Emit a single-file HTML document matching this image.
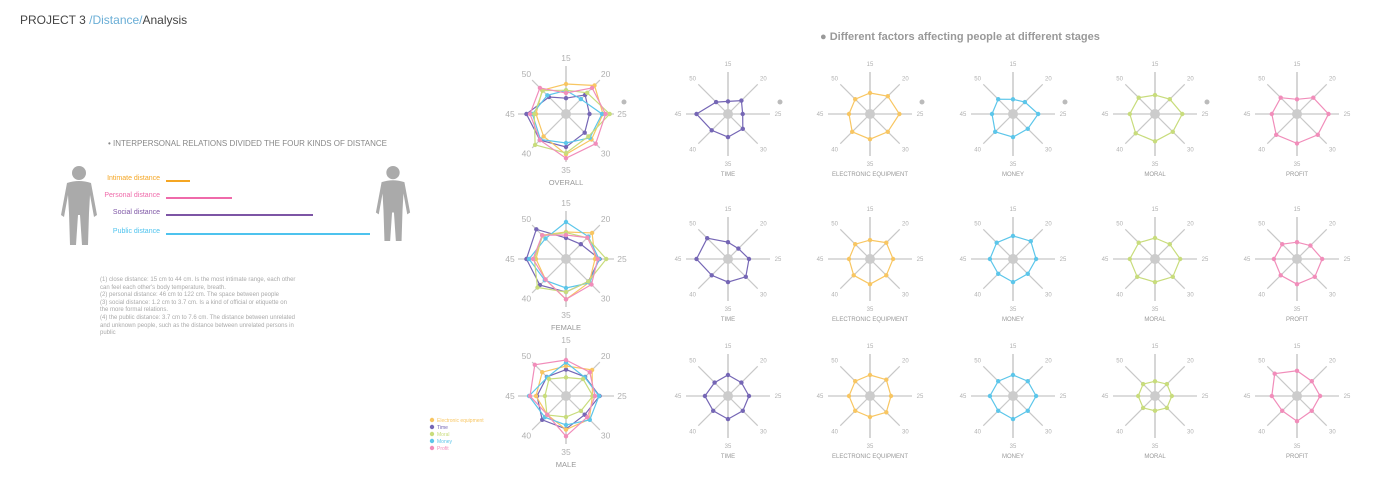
<!DOCTYPE html>
<html><head><meta charset="utf-8">
<style>
body{margin:0;background:#fff;font-family:"Liberation Sans",sans-serif;}
#wrap{position:relative;width:1400px;height:495px;overflow:hidden;background:#fff}
.t{position:absolute;white-space:nowrap}
</style></head><body><div id="wrap">
<div class="t" style="left:20px;top:13px;font-size:12px;color:#444">PROJECT 3 <span style="color:#6aaed6">/Distance/</span>Analysis</div>
<div class="t" style="left:820px;top:31px;font-size:11px;color:#999;font-weight:bold">● Different factors affecting people at different stages</div>
<div class="t" style="left:108px;top:139px;font-size:8px;color:#888">• INTERPERSONAL RELATIONS DIVIDED THE FOUR KINDS OF DISTANCE</div>
<div class="t" style="left:100px;top:277px;font-size:6px;line-height:7.6px;color:#aaa">(1) close distance: 15 cm to 44 cm. Is the most intimate range, each other<br>can feel each other's body temperature, breath.<br>(2) personal distance: 46 cm to 122 cm. The space between people<br>(3) social distance: 1.2 cm to 3.7 cm. Is a kind of official or etiquette on<br>the more formal relations.<br>(4) the public distance: 3.7 cm to 7.6 cm. The distance between unrelated<br>and unknown people, such as the distance between unrelated persons in<br>public</div>
<svg id="s" width="1400" height="495" style="position:absolute;left:0;top:0" font-family="Liberation Sans, sans-serif"></svg>
</div>
<script>
var s=document.getElementById('s'),h='';
function person(x,y,sc){h+='<g fill="#aaa" transform="translate('+x+','+y+') scale('+sc+')"><circle cx="20" cy="8" r="7"/><path d="M8 18 Q20 14 32 18 L38 50 L35 52 L31 30 L30 48 L29 80 L23 80 L21 50 L19 50 L17 80 L11 80 L10 48 L9 30 L5 52 L2 50 Z"/></g>';}
person(59,165,1);person(374,165,0.95);
var bars=[['Intimate distance','#f5a623',166,190,181],['Personal distance','#ef6aaa',166,232,198],['Social distance','#7d55a5',166,313,215],['Public distance','#4ec3ee',166,370,234]];
bars.forEach(function(b){h+='<text x="160" y="'+(b[4]-1)+'" font-size="7" fill="'+b[1]+'" text-anchor="end">'+b[0]+'</text><line x1="'+b[2]+'" y1="'+b[4]+'" x2="'+b[3]+'" y2="'+b[4]+'" stroke="'+b[1]+'" stroke-width="2"/>';});
var C={t:'#7566b5',e:'#f8c662',m:'#c8dc7c',b:'#5cc6ea',p:'#f18dba'};
var labs=[15,20,25,30,35,40,45,50];
function radar(cx,cy,R,fs,series,title,dot){
 for(var i=0;i<8;i++){var a=-Math.PI/2+i*Math.PI/4,x=cx+R*Math.cos(a),y=cy+R*Math.sin(a);
  h+='<line x1="'+cx+'" y1="'+cy+'" x2="'+x.toFixed(1)+'" y2="'+y.toFixed(1)+'" stroke="#c8c8c8" stroke-width="'+(i%4==0?1.5:1.2)+'"/>';
  var lx=cx+(R+8)*Math.cos(a),ly=cy+(R+8)*Math.sin(a)+fs/3;
  h+='<text x="'+lx.toFixed(1)+'" y="'+ly.toFixed(1)+'" font-size="'+fs+'" fill="#b0b0b0" text-anchor="middle">'+labs[i]+'</text>';}
 h+='<circle cx="'+cx+'" cy="'+cy+'" r="5" fill="#ccc"/>';
 series.forEach(function(sr){var pts=[],col=C[sr[0]];
  for(var i=0;i<8;i++){var a=-Math.PI/2+i*Math.PI/4,r=R*sr[1][i];pts.push([cx+r*Math.cos(a),cy+r*Math.sin(a)]);}
  h+='<polygon points="'+pts.map(function(p){return p[0].toFixed(1)+','+p[1].toFixed(1)}).join(' ')+'" fill="none" stroke="'+col+'" stroke-width="1.2"/>';
  pts.forEach(function(p){h+='<circle cx="'+p[0].toFixed(1)+'" cy="'+p[1].toFixed(1)+'" r="2.2" fill="'+col+'"/>';});});
 h+='<text x="'+cx+'" y="'+(cy+R+(fs>6?23:20))+'" font-size="'+(fs>6?7.5:6)+'" fill="#999" text-anchor="middle">'+title+'</text>';
 if(dot)h+='<circle cx="'+(cx+R+10)+'" cy="'+(cy-12)+'" r="2.5" fill="#bbb"/>';
}
var D=[
 {t:[.3,.45,.35,.5,.55,.55,.75,.4],e:[.5,.6,.7,.6,.6,.6,.5,.5],m:[.45,.5,.65,.6,.65,.65,.6,.55],b:[.35,.4,.6,.5,.55,.6,.5,.5],p:[.35,.55,.75,.7,.7,.7,.6,.55]},
 {t:[.4,.35,.5,.6,.55,.55,.75,.7],e:[.45,.55,.55,.55,.6,.55,.5,.5],m:[.5,.5,.6,.6,.55,.6,.6,.55],b:[.55,.6,.55,.5,.55,.5,.55,.55],p:[.4,.45,.6,.6,.6,.55,.55,.5]},
 {t:[.5,.45,.5,.5,.55,.5,.55,.45],e:[.5,.55,.5,.55,.5,.5,.5,.5],m:[.35,.4,.4,.4,.35,.4,.4,.4],b:[.5,.5,.55,.5,.55,.5,.55,.5],p:[.6,.5,.55,.5,.6,.5,.6,.75]}];
var rows=[114,259,396],cols=[728,870,1013,1155,1297],keys=['t','e','b','m','p'],names=['TIME','ELECTRONIC EQUIPMENT','MONEY','MORAL','PROFIT'],bt=['OVERALL','FEMALE','MALE'];
rows.forEach(function(cy,r){
 var ser=keys.map(function(k,i){return [k,D[r][k].map(function(v,j){return Math.min(.92,1.25*v*(1+.12*((i+j)%3-1)))})]});
 radar(566,cy,48,8.5,ser,bt[r],r==0);
 keys.forEach(function(k,i){radar(cols[i],cy,42,6,[[k,D[r][k]]],names[i],r==0&&i<4);});
});
var lg=[['Electronic equipment','#f8c662'],['Time','#7566b5'],['Moral','#c8dc7c'],['Money','#5cc6ea'],['Profit','#f18dba']];
lg.forEach(function(l,i){var y=420+i*7;h+='<circle cx="432" cy="'+y+'" r="2.2" fill="'+l[1]+'"/><text x="437" y="'+(y+2)+'" font-size="5" fill="'+l[1]+'">'+l[0]+'</text>';});
s.innerHTML=h;
</script>
</body></html>
